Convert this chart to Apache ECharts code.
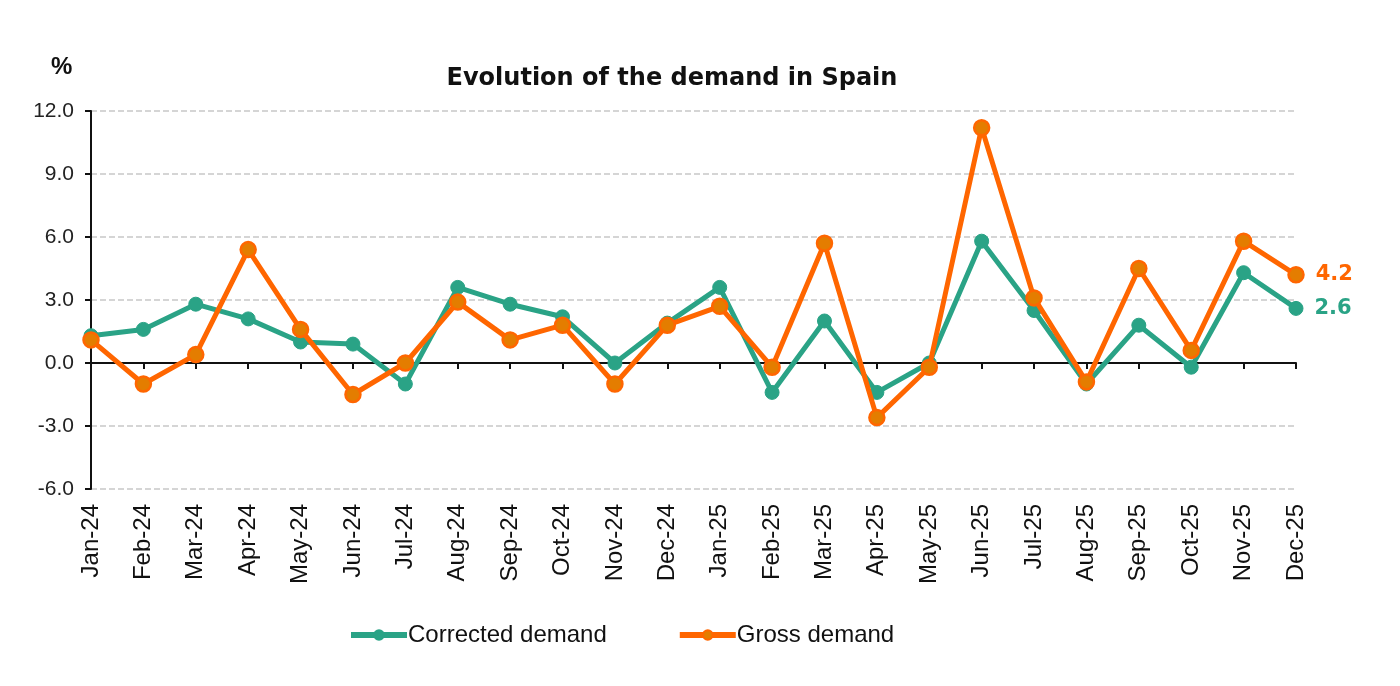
<!DOCTYPE html>
<html>
<head>
<meta charset="utf-8">
<script src="https://cdn.jsdelivr.net/npm/echarts@6/dist/echarts.min.js"></script>
<style>
html,body{margin:0;padding:0;background:#fff;}
#chart{width:1400px;height:686px;}
</style>
</head>
<body>
<div id="chart"></div>
<script>
const categories = ['Jan-24','Feb-24','Mar-24','Apr-24','May-24','Jun-24','Jul-24','Aug-24','Sep-24','Oct-24','Nov-24','Dec-24',
  'Jan-25','Feb-25','Mar-25','Apr-25','May-25','Jun-25','Jul-25','Aug-25','Sep-25','Oct-25','Nov-25','Dec-25'];
const correctedDemand = [1.3,1.6,2.8,2.1,1.0,0.9,-1.0,3.6,2.8,2.2,0.0,1.9,3.6,-1.4,2.0,-1.4,0.0,5.8,2.5,-1.0,1.8,-0.2,4.3,2.6];
const grossDemand = [1.1,-1.0,0.4,5.4,1.6,-1.5,0.0,2.9,1.1,1.8,-1.0,1.8,2.7,-0.2,5.7,-2.6,-0.2,11.2,3.1,-0.9,4.5,0.6,5.8,4.2];
const yTicks = {min:-6, max:12, interval:3};

const TEAL = '#2aa386';
const ORANGE = '#ff6600';
const ORANGE_FILL = '#e47d00';
const FONT = '"Liberation Sans", Arial, sans-serif';

const chart = echarts.init(document.getElementById('chart'));

function endLabel(color){
  return {
    show: true,
    position: 'right',
    distance: 11,
    color: color,
    fontFamily: '"DejaVu Sans", sans-serif',
    fontWeight: 'bold',
    fontSize: 21,
    formatter: function(p){ return p.dataIndex === categories.length - 1 ? p.value.toFixed(1) : ''; }
  };
}

chart.setOption({
  animation: false,
  backgroundColor: '#fff',
  title: [{
    text: 'Evolution of the demand in Spain',
    left: 667, top: 62, textAlign: 'center',
    textStyle: {fontFamily: '"DejaVu Sans", sans-serif', fontWeight: 'bold', fontSize: 24, color: '#111'}
  },{
    text: '%',
    left: 46, top: 50,
    textStyle: {fontFamily: FONT, fontWeight: 'bold', fontSize: 24, color: '#111'}
  }],
  legend: {
    top: 618, left: 343,
    itemWidth: 56, itemHeight: 12, itemGap: 70,
    lineStyle: {width: 6},
    textStyle: {fontFamily: FONT, fontSize: 24, color: '#111', padding: [0,0,0,-4]},
    data: ['Corrected demand','Gross demand']
  },
  grid: {left: 91, right: 104, top: 111, bottom: 197, containLabel: false},
  xAxis: [{
    type: 'category', data: categories, boundaryGap: false, position: 'bottom',
    axisLine: {show: false, onZero: false}, axisTick: {show: false},
    axisLabel: {rotate: 90, fontFamily: FONT, fontSize: 24, color: '#111', margin: 15, interval: 0},
    splitLine: {show: false}
  },{
    type: 'category', data: categories, boundaryGap: false, position: 'bottom',
    axisLine: {show: true, onZero: true, lineStyle: {color: '#111', width: 2}},
    axisTick: {show: true, length: 6, interval: 0, lineStyle: {color: '#111', width: 2}},
    axisLabel: {show: false}, splitLine: {show: false}
  }],
  yAxis: {
    type: 'value', min: yTicks.min, max: yTicks.max, interval: yTicks.interval,
    axisLine: {show: true, lineStyle: {color: '#111', width: 2}},
    axisTick: {show: true, length: 6, lineStyle: {color: '#111', width: 2}},
    axisLabel: {fontFamily: FONT, fontSize: 21, color: '#222', margin: 17, formatter: v => v.toFixed(1)},
    splitLine: {show: true, lineStyle: {color: '#c8c8c8', type: 'dashed', width: 1.5}}
  },
  series: [{
    name: 'Corrected demand', type: 'line', data: correctedDemand,
    symbol: 'circle', symbolSize: 14, showAllSymbol: true,
    lineStyle: {color: TEAL, width: 5},
    itemStyle: {color: TEAL, borderColor: TEAL, borderWidth: 1},
    label: endLabel(TEAL), z: 2
  },{
    name: 'Gross demand', type: 'line', data: grossDemand,
    symbol: 'circle', symbolSize: 15, showAllSymbol: true,
    lineStyle: {color: ORANGE, width: 5},
    itemStyle: {color: ORANGE_FILL, borderColor: ORANGE, borderWidth: 2.5},
    label: endLabel(ORANGE), z: 3
  }]
});
</script>
</body>
</html>
